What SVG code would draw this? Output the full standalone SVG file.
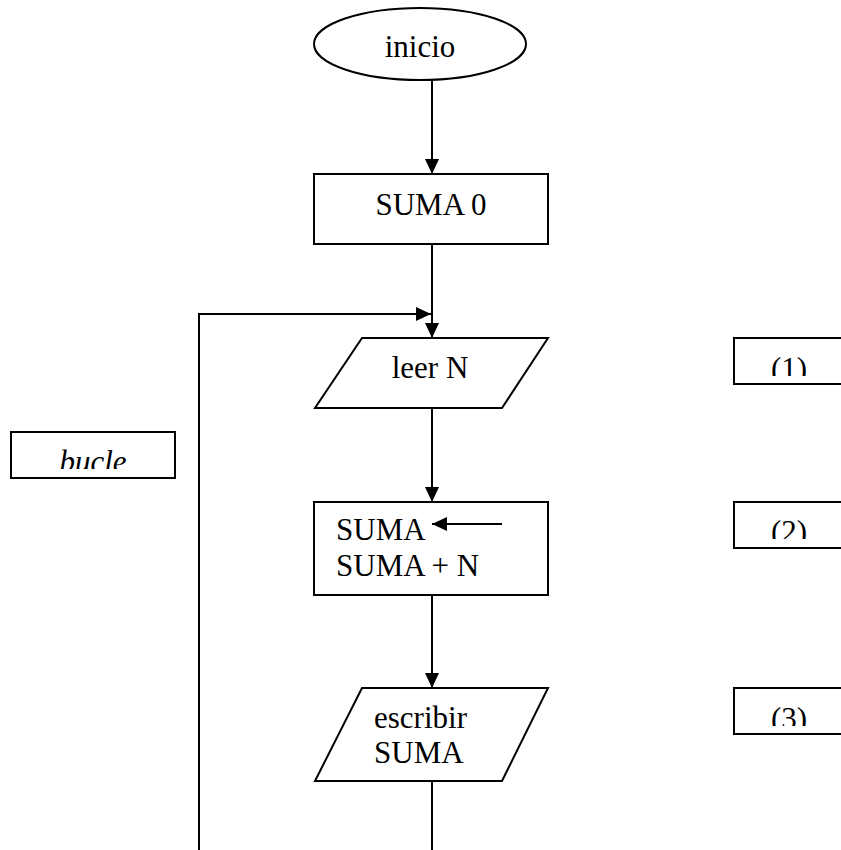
<svg xmlns="http://www.w3.org/2000/svg" width="841" height="850" viewBox="0 0 841 850">
  <style>
    .shape { fill: #ffffff; stroke: #000000; stroke-width: 2; }
    .edge { fill: none; stroke: #000000; stroke-width: 2; }
    .label { font-family: "Liberation Serif", "Times New Roman", serif; font-size: 31px; fill: #000000; }
    .mid { text-anchor: middle; }
    .note { font-style: italic; }
  </style>
  <defs>
    <marker id="arrow" viewBox="0 0 15 14" refX="15" refY="7" markerWidth="15" markerHeight="14" markerUnits="userSpaceOnUse" orient="auto">
      <path d="M0,0 L15,7 L0,14 Z" fill="#000000"/>
    </marker>
    <clipPath id="clipBucle"><rect x="11" y="432" width="164" height="37"/></clipPath>
    <clipPath id="clipN1"><rect x="734" y="338" width="107" height="38"/></clipPath>
    <clipPath id="clipN2"><rect x="734" y="502" width="107" height="37"/></clipPath>
    <clipPath id="clipN3"><rect x="734" y="688" width="107" height="38"/></clipPath>
  </defs>

  <!-- connectors -->
  <g id="connectors">
    <line class="edge" x1="432" y1="80" x2="432" y2="174" marker-end="url(#arrow)"/>
    <line class="edge" x1="432" y1="244" x2="432" y2="338" marker-end="url(#arrow)"/>
    <line class="edge" x1="432" y1="408" x2="432" y2="502" marker-end="url(#arrow)"/>
    <line class="edge" x1="432" y1="595" x2="432" y2="688" marker-end="url(#arrow)"/>
    <line class="edge" x1="432" y1="781" x2="432" y2="850"/>
    <!-- return loop -->
    <polyline class="edge" points="199,850 199,314 431,314" marker-end="url(#arrow)"/>
  </g>

  <g id="inicio">
    <ellipse class="shape" cx="420" cy="44" rx="106" ry="36"/>
    <text class="label mid" x="420" y="57">inicio</text>
  </g>

  <g id="suma0">
    <rect class="shape" x="314" y="174" width="234" height="70"/>
    <text class="label mid" x="431" y="215">SUMA 0</text>
  </g>

  <g id="leerN">
    <polygon class="shape" points="362,338 548,338 502,408 315,408"/>
    <text class="label mid" x="430" y="378">leer N</text>
  </g>

  <g id="acumular">
    <rect class="shape" x="314" y="502" width="234" height="93"/>
    <text class="label" x="336" y="540">SUMA</text>
    <text class="label" x="336" y="576">SUMA + N</text>
    <line class="edge" x1="502" y1="524" x2="432" y2="524" marker-end="url(#arrow)"/>
  </g>

  <g id="escribirSuma">
    <polygon class="shape" points="362,688 548,688 502,781 315,781"/>
    <text class="label" x="374" y="728">escribir</text>
    <text class="label" x="374" y="763">SUMA</text>
  </g>

  <g id="bucle">
    <rect class="shape" x="11" y="432" width="164" height="46"/>
    <text class="label mid note" x="93" y="472" clip-path="url(#clipBucle)">bucle</text>
  </g>

  <g id="nota1">
    <polyline class="edge" points="842,338 734,338 734,384 842,384"/>
    <text class="label mid" x="789" y="379" clip-path="url(#clipN1)">(1)</text>
  </g>

  <g id="nota2">
    <polyline class="edge" points="842,502 734,502 734,548 842,548"/>
    <text class="label mid" x="789" y="542" clip-path="url(#clipN2)">(2)</text>
  </g>

  <g id="nota3">
    <polyline class="edge" points="842,688 734,688 734,734 842,734"/>
    <text class="label mid" x="789" y="729" clip-path="url(#clipN3)">(3)</text>
  </g>
</svg>
